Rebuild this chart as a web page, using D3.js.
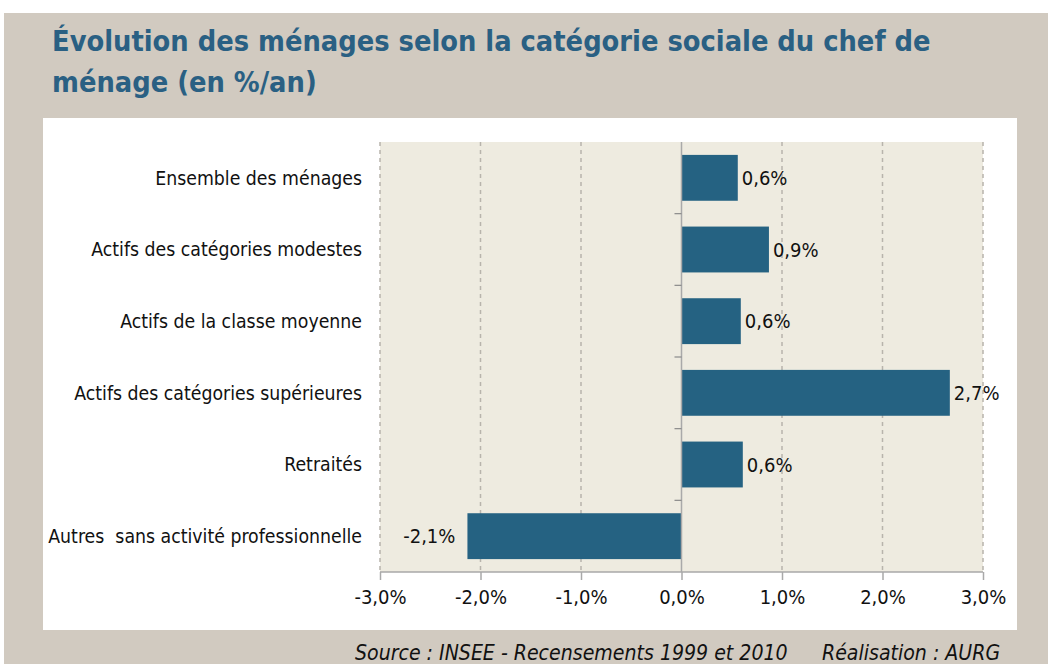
<!DOCTYPE html>
<html>
<head>
<meta charset="utf-8">
<script src="https://cdn.jsdelivr.net/npm/d3@7"></script>
<style>
  body { margin: 0; background: #fff; }
  text { white-space: pre; }
</style>
</head>
<body>
<div id="chart"></div>
<script>
const categories = [
    "Ensemble des ménages",
    "Actifs des catégories modestes",
    "Actifs de la classe moyenne",
    "Actifs des catégories supérieures",
    "Retraités",
    "Autres  sans activité professionnelle"
];
const values = [0.56, 0.87, 0.59, 2.67, 0.61, -2.13];
const valueLabels = ["0,6%", "0,9%", "0,6%", "2,7%", "0,6%", "-2,1%"];
const xTicks = [-3, -2, -1, 0, 1, 2, 3];
const xTickLabels = ["-3,0%", "-2,0%", "-1,0%", "0,0%", "1,0%", "2,0%", "3,0%"];

const width = 1048, height = 664;
const svg = d3.select("#chart").append("svg")
    .attr("width", width)
    .attr("height", height);

const fontFamily = "'DejaVu Sans Condensed', 'DejaVu Sans', sans-serif";

// outer panel
svg.append("rect").attr("x", 4).attr("y", 13).attr("width", width - 4).attr("height", height - 13)
    .attr("fill", "#d1cac0");

const title = svg.append("text")
    .attr("font-family", fontFamily)
    .attr("font-weight", "bold")
    .attr("font-size", 28.7)
    .attr("fill", "#2a6083");
title.append("tspan").attr("x", 52).attr("y", 51).text("Évolution des ménages selon la catégorie sociale du chef de");
title.append("tspan").attr("x", 52).attr("y", 92).text("ménage (en %/an)");

// white chart panel
svg.append("rect").attr("x", 43).attr("y", 118).attr("width", 974).attr("height", 512)
    .attr("fill", "#ffffff");

const margin = {left: 380, right: 983, top: 142, bottom: 572};

const x = d3.scaleLinear().domain([-3, 3]).range([margin.left, margin.right]);
const y = d3.scaleBand().domain(categories).range([margin.top, margin.bottom]).paddingInner(0.36).paddingOuter(0.18);
const yb = d3.scaleBand().domain(categories).range([margin.top, margin.bottom]);

svg.append("rect")
    .attr("x", margin.left).attr("y", margin.top)
    .attr("width", margin.right - margin.left).attr("height", margin.bottom - margin.top)
    .attr("fill", "#eeebe0");

// vertical grid
svg.append("g").selectAll("line")
    .data(xTicks.filter(d => d !== 0))
    .enter().append("line")
    .attr("x1", d => x(d)).attr("x2", d => x(d))
    .attr("y1", margin.top).attr("y2", margin.bottom)
    .attr("stroke", "#b8b4ac")
    .attr("stroke-width", 1.5)
    .attr("stroke-dasharray", "4,4");

// bars
svg.append("g").selectAll("rect")
    .data(values)
    .enter().append("rect")
    .attr("x", d => x(Math.min(0, d)))
    .attr("width", d => Math.abs(x(d) - x(0)))
    .attr("y", (d, i) => y(categories[i]))
    .attr("height", y.bandwidth())
    .attr("fill", "#256282");

// value labels
svg.append("g").selectAll("text")
    .data(values)
    .enter().append("text")
    .attr("x", d => d >= 0 ? x(d) + 4 : x(d) - 12)
    .attr("y", (d, i) => y(categories[i]) + y.bandwidth() / 2)
    .attr("dy", "0.36em")
    .attr("text-anchor", d => d >= 0 ? "start" : "end")
    .attr("font-family", fontFamily)
    .attr("font-size", 20)
    .attr("fill", "#111")
    .text((d, i) => valueLabels[i]);

// bottom axis
const xAxis = d3.axisBottom(x)
    .tickValues(xTicks)
    .tickFormat((d, i) => xTickLabels[i])
    .tickSize(8)
    .tickPadding(10);

const gx = svg.append("g")
    .attr("transform", `translate(0,${margin.bottom})`)
    .call(xAxis);
gx.select(".domain").attr("stroke", "#a9a9a9").attr("stroke-width", 1.5).attr("d", `M${margin.left},0H${margin.right}`);
gx.selectAll(".tick line").attr("stroke", "#a9a9a9").attr("stroke-width", 1.5);
gx.selectAll(".tick text")
    .attr("font-family", fontFamily)
    .attr("font-size", 20)
    .attr("fill", "#111");

// zero axis with category ticks
svg.append("line")
    .attr("x1", x(0)).attr("x2", x(0))
    .attr("y1", margin.top).attr("y2", margin.bottom)
    .attr("stroke", "#a9a9a9").attr("stroke-width", 1.5);
svg.append("g").selectAll("line")
    .data(categories.slice(1))
    .enter().append("line")
    .attr("x1", x(0) - 7).attr("x2", x(0))
    .attr("y1", d => yb(d)).attr("y2", d => yb(d))
    .attr("stroke", "#8a8a8a").attr("stroke-width", 1.2);

// category labels
svg.append("g").selectAll("text")
    .data(categories)
    .enter().append("text")
    .attr("x", 362)
    .attr("y", d => yb(d) + yb.bandwidth() / 2)
    .attr("dy", "0.36em")
    .attr("text-anchor", "end")
    .attr("font-family", fontFamily)
    .attr("font-size", 19.3)
    .attr("fill", "#111")
    .text(d => d);

// footer
svg.append("text")
    .attr("x", 355).attr("y", 660)
    .attr("font-family", fontFamily)
    .attr("font-style", "italic")
    .attr("font-size", 21.1)
    .attr("fill", "#111")
    .text("Source : INSEE - Recensements 1999 et 2010");
svg.append("text")
    .attr("x", 822).attr("y", 660)
    .attr("font-family", fontFamily)
    .attr("font-style", "italic")
    .attr("font-size", 21.1)
    .attr("fill", "#111")
    .text("Réalisation : AURG");
</script>
</body>
</html>
